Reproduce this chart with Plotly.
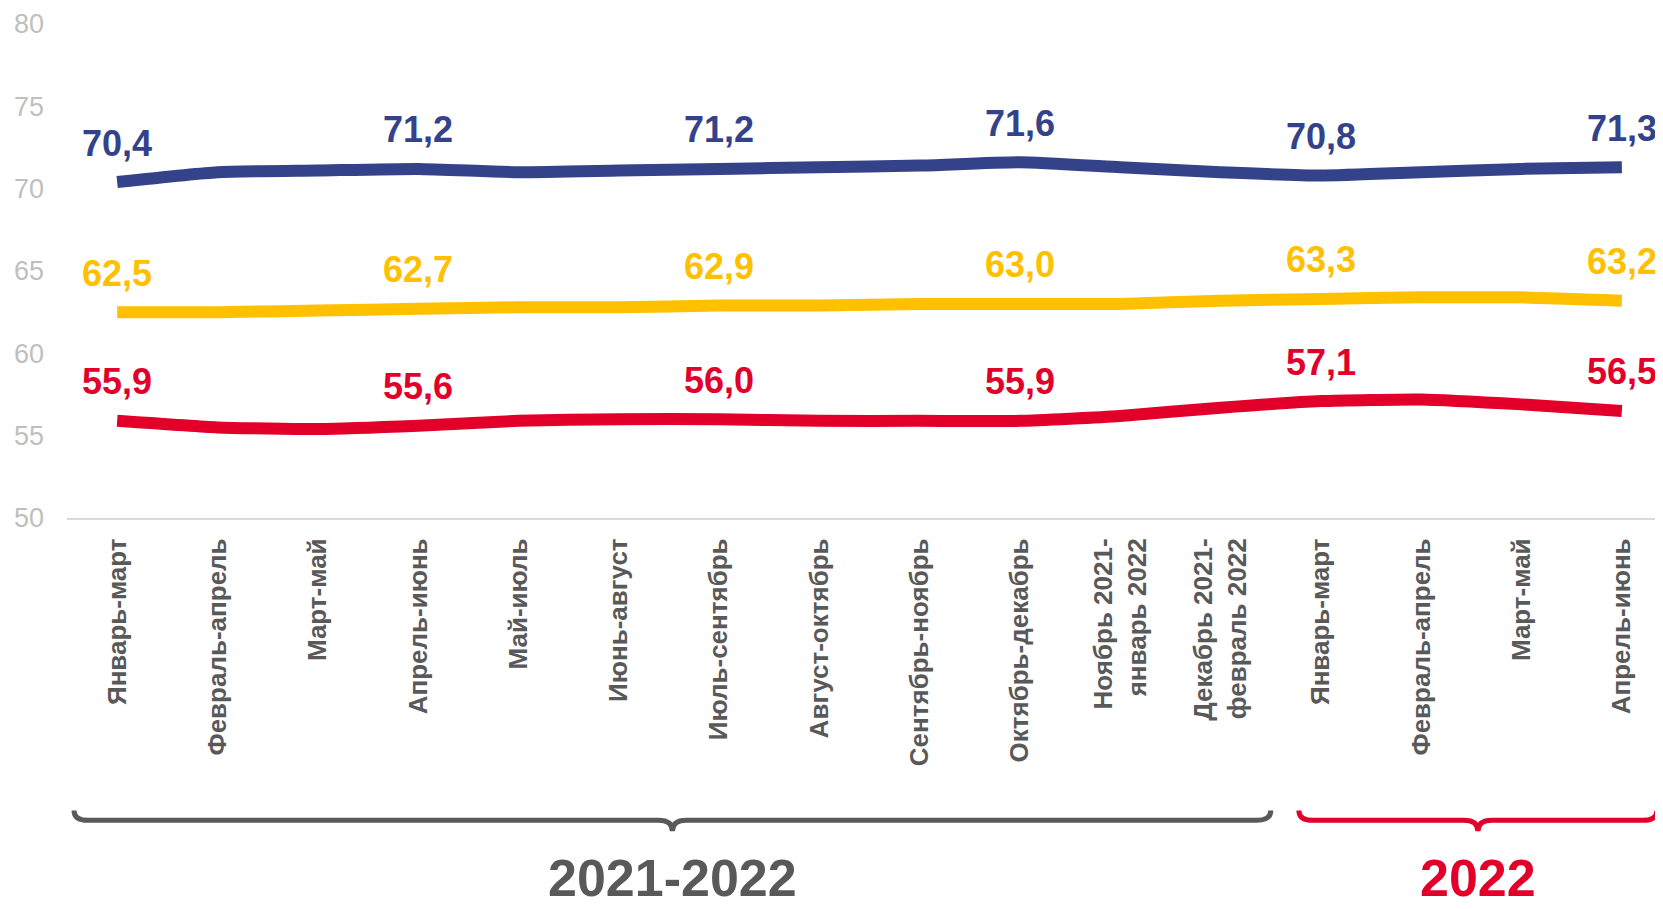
import plotly.graph_objects as go

categories = [
    "Январь-март", "Февраль-апрель", "Март-май", "Апрель-июнь", "Май-июль",
    "Июнь-август", "Июль-сентябрь", "Август-октябрь", "Сентябрь-ноябрь",
    "Октябрь-декабрь", "Ноябрь 2021-<br>январь 2022", "Декабрь 2021-<br>февраль 2022",
    "Январь-март", "Февраль-апрель", "Март-май", "Апрель-июнь",
]
blue_values = [70.4, 71.0, 71.1, 71.2, 71.0, 71.1, 71.2, 71.3, 71.4, 71.6, 71.3, 71.0, 70.8, 71.0, 71.2, 71.3]
yellow_values = [62.5, 62.5, 62.6, 62.7, 62.8, 62.8, 62.9, 62.9, 63.0, 63.0, 63.0, 63.2, 63.3, 63.4, 63.4, 63.2]
red_values = [55.9, 55.5, 55.4, 55.6, 55.9, 56.0, 56.0, 55.9, 55.9, 55.9, 56.2, 56.7, 57.1, 57.2, 56.9, 56.5]
labeled_idx = [0, 3, 6, 9, 12, 15]
y_ticks = [50, 55, 60, 65, 70, 75, 80]
groups = [
    ("2021-2022", 0, 11, "#595959"),
    ("2022", 12, 15, "#E2002B"),
]

BLUE = "#344289"
YELLOW = "#FFC000"
RED = "#E2002B"
FONT = "Liberation Sans, Arial, sans-serif"

x = list(range(len(categories)))
fig = go.Figure()
for vals, col in [(blue_values, BLUE), (yellow_values, YELLOW), (red_values, RED)]:
    fig.add_trace(go.Scatter(
        x=x, y=vals, mode="lines",
        line=dict(color=col, width=12, shape="spline", smoothing=0.5),
        hoverinfo="skip", showlegend=False,
    ))
    for i in labeled_idx:
        fig.add_annotation(
            x=i, y=vals[i], text=f"{vals[i]:.1f}".replace(".", ","),
            showarrow=False, yshift=39, yanchor="middle", xanchor="center",
            font=dict(family=FONT, size=36, color=col, weight="bold"),
        )

# brackets under the axis
def brace_path(x0, x1, ytop, ymid, ytip, rx):
    xc = (x0 + x1) / 2
    return (
        f"M {x0} {ytop} Q {x0} {ymid} {x0 + rx} {ymid} "
        f"L {xc - rx} {ymid} Q {xc} {ymid} {xc} {ytip} "
        f"Q {xc} {ymid} {xc + rx} {ymid} "
        f"L {x1 - rx} {ymid} Q {x1} {ymid} {x1} {ytop}"
    )

pads = {"2021-2022": (0.43, 0.5), "2022": (0.22, 0.35)}
for name, a, b, col in groups:
    pl, pr = pads[name]
    x0, x1 = a - pl, b + pr
    fig.add_shape(
        type="path", xref="x", yref="paper",
        path=brace_path(x0, x1, -0.592, -0.612, -0.634, 0.14),
        line=dict(color=col, width=5),
    )
    fig.add_annotation(
        x=(x0 + x1) / 2, y=-0.728, xref="x", yref="paper", text=name,
        showarrow=False, yanchor="middle", xanchor="center", borderpad=0,
        font=dict(family=FONT, size=52, color=col, weight="bold"),
    )

fig.update_layout(
    width=1655, height=901,
    margin=dict(l=59, r=0, t=16, b=391),
    paper_bgcolor="white", plot_bgcolor="white",
    xaxis=dict(
        range=[-0.5, 15.41], tickmode="array", tickvals=x, ticktext=categories,
        tickangle=-90, showgrid=False, zeroline=False,
        showline=True, linecolor="#D9D9D9", linewidth=2,
        ticks="", ticklabelstandoff=8,
        tickfont=dict(family=FONT, size=26, color="#595959", weight="bold"),
    ),
    yaxis=dict(
        range=[50, 80], tickmode="array", tickvals=y_ticks,
        showgrid=False, zeroline=False, showline=False, ticks="",
        ticklabelstandoff=22,
        tickfont=dict(family=FONT, size=27, color="#BFBFBF"),
    ),
)

fig.write_html("out.html")
